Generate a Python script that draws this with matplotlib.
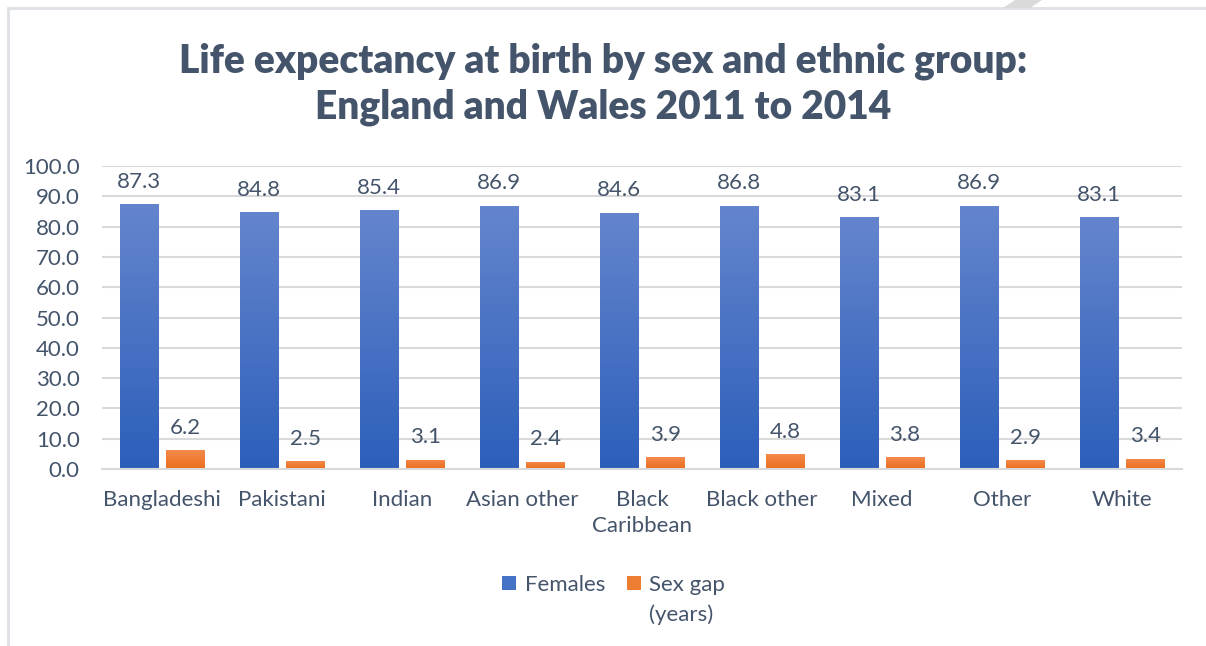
import numpy as np
import matplotlib.pyplot as plt
from matplotlib.patches import Rectangle, Polygon
from matplotlib.colors import LinearSegmentedColormap

categories = ['Bangladeshi', 'Pakistani', 'Indian', 'Asian other', 'Black\nCaribbean',
              'Black other', 'Mixed', 'Other', 'White']
females = [87.3, 84.8, 85.4, 86.9, 84.6, 86.8, 83.1, 86.9, 83.1]
sex_gap = [6.2, 2.5, 3.1, 2.4, 3.9, 4.8, 3.8, 2.9, 3.4]

text_col = '#44546A'
grid_col = '#D9D9D9'
plt.rcParams['font.family'] = ['Lato', 'DejaVu Sans']

fig = plt.figure(figsize=(12.06, 6.46), dpi=100)
ax = fig.add_axes([102 / 1206, 1 - 469 / 646, 1080 / 1206, 303 / 646])

x = np.arange(len(categories))
w = 0.317
off = 0.192
b1 = ax.bar(x - off, females, w, color='#4472C4', label='Females', zorder=2)
b2 = ax.bar(x + off, sex_gap, w, color='#ED7D31', label='Sex gap', zorder=2)

# gradient fill, lighter at the top
def shade(bars, top, bottom):
    cmap = LinearSegmentedColormap.from_list('g', [bottom, top])
    grad = np.linspace(0, 1, 100).reshape(-1, 1)
    for p in bars:
        x0, y0 = p.get_x(), p.get_y()
        im = ax.imshow(grad, cmap=cmap, aspect='auto', origin='lower',
                       extent=[x0, x0 + p.get_width(), y0, y0 + p.get_height()], zorder=2.5)
        im.set_clip_path(p)

shade(b1, '#6485CD', '#2D5FBA')
shade(b2, '#F48A4C', '#EB6D1C')

for xs, vals in [(x - off, females), (x + off, sex_gap)]:
    for xi, v in zip(xs, vals):
        ax.annotate(f'{v:.1f}', (xi, v), xytext=(0, 9), textcoords='offset points',
                    ha='center', va='bottom', fontsize=16, color=text_col)

ax.set_xlim(-0.5, len(categories) - 0.5)
ax.set_ylim(0, 100)
ax.set_yticks(np.arange(0, 101, 10))
ax.set_yticklabels([f'{t:.1f}' for t in np.arange(0, 101, 10)])
ax.set_xticks(x)
ax.set_xticklabels(categories, linespacing=1.4)
ax.tick_params(axis='both', length=0, labelsize=16, labelcolor=text_col)
ax.tick_params(axis='y', pad=16)
ax.tick_params(axis='x', pad=15)
ax.grid(axis='y', color=grid_col, linewidth=1.5, zorder=0)
for s in ['top', 'right', 'left']:
    ax.spines[s].set_visible(False)
ax.spines['bottom'].set_color(grid_col)
ax.spines['bottom'].set_linewidth(1.5)

fig.text(0.5, 1 - 84 / 646, 'Life expectancy at birth by sex and ethnic group:\nEngland and Wales 2011 to 2014',
         ha='center', va='center', fontsize=28, fontweight='heavy', color=text_col, linespacing=1.3)

leg = fig.legend(loc='center', bbox_to_anchor=(0.509, 1 - 585 / 646), ncol=2, frameon=False,
                 fontsize=16, handlelength=0.6, handleheight=0.6, columnspacing=1.0,
                 handletextpad=0.4, labelcolor=text_col)

# second line of the "Sex gap (years)" label, under the legend text
fig.canvas.draw()
bb = leg.get_texts()[1].get_window_extent().transformed(fig.transFigure.inverted())
fig.text(bb.x0, bb.y0 - 0.014, '(years)', ha='left', va='top', fontsize=16, color=text_col)

# chart border and the shape peeking over it
fig.add_artist(Rectangle((8 / 1206, -0.1), 1.2, 1 - 8 / 646 + 0.1, transform=fig.transFigure,
                         fill=False, edgecolor='#DDE1E6', linewidth=2))
fig.add_artist(Polygon([(1003 / 1206, 1 - 8 / 646), (1015 / 1206, 1), (1042 / 1206, 1),
                        (1030 / 1206, 1 - 8 / 646)], transform=fig.transFigure,
                       facecolor='#DADADA', edgecolor='none'))

fig.savefig('out.png', dpi=100)
